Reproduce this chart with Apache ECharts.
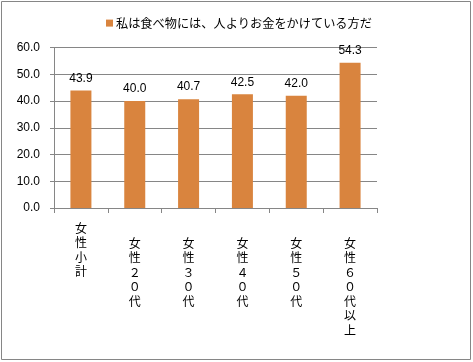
<!DOCTYPE html>
<html><head><meta charset="utf-8">
<script src="https://cdn.jsdelivr.net/npm/echarts@6/dist/echarts.min.js"></script>
<style>html,body{margin:0;padding:0;background:#fff}#c{width:473px;height:362px}</style>
</head><body><div id="c"></div>
<script>
const categories = ['女性小計','女性２０代','女性３０代','女性４０代','女性５０代','女性６０代以上'];
const values = [43.9, 40.0, 40.7, 42.5, 42.0, 54.3];
const seriesName = '私は食べ物には、人よりお金をかけている方だ';
const yTicks = [0, 10, 20, 30, 40, 50, 60];

const font = '"Noto Sans CJK JP", "Liberation Sans", sans-serif';
const chart = echarts.init(document.getElementById('c'), null, {renderer:'canvas'});
chart.setOption({
  animation: false,
  backgroundColor: '#fff',
  graphic: [{type:'rect', shape:{x:1.5,y:1.5,width:469,height:358}, style:{fill:'none', stroke:'#868686', lineWidth:1}, silent:true}],
  legend: {
    data: [seriesName], left: 101, top: 12, icon: 'rect', itemWidth: 7, itemHeight: 7, itemGap: 4,
    textStyle: {fontFamily: font, fontSize: 12.2, color: '#000', padding:[0,0,0,-2]}
  },
  grid: {left: 54, right: 96, top: 47.5, bottom: 154, containLabel: false},
  xAxis: {
    type: 'category', data: categories,
    axisLine: {lineStyle: {color: '#868686'}},
    axisTick: {show: true, alignWithLabel: false, length: 5, lineStyle: {color: '#868686'}},
    axisLabel: {
      interval: 0, margin: 13, color: '#000', fontFamily: font, fontSize: 12,
      formatter: function (v, i) {
        const chars = Array.from(v);
        if (i === 0) return chars.map(c => '{f|' + c + '}').join('\n');
        return '{sp|}\n' + chars.map(c => '{o|' + c + '}').join('\n');
      },
      rich: {
        f: {fontFamily: font, fontSize: 12, lineHeight: 14.5, color: '#000'},
        o: {fontFamily: font, fontSize: 12, lineHeight: 14.5, color: '#000'},
        sp: {height: 15, lineHeight: 15}
      }
    }
  },
  yAxis: {
    type: 'value', min: 0, max: 60, interval: 10,
    axisLine: {show: true, lineStyle: {color: '#868686'}},
    axisTick: {show: true, length: 4, lineStyle: {color: '#868686'}},
    splitLine: {lineStyle: {color: '#868686'}},
    axisLabel: {color: '#000', fontFamily: '"Liberation Sans", Arial, sans-serif', fontSize: 12, margin: 14,
      formatter: v => yTicks.includes(v) ? v.toFixed(1) : ''}
  },
  series: [{
    name: seriesName, type: 'bar', data: values, barWidth: 21,
    itemStyle: {color: '#D9843E'},
    label: {show: true, position: 'top', distance: 6, color: '#000',
      fontFamily: '"Liberation Sans", Arial, sans-serif', fontSize: 12,
      formatter: p => p.value.toFixed(1)}
  }]
});
</script></body></html>
